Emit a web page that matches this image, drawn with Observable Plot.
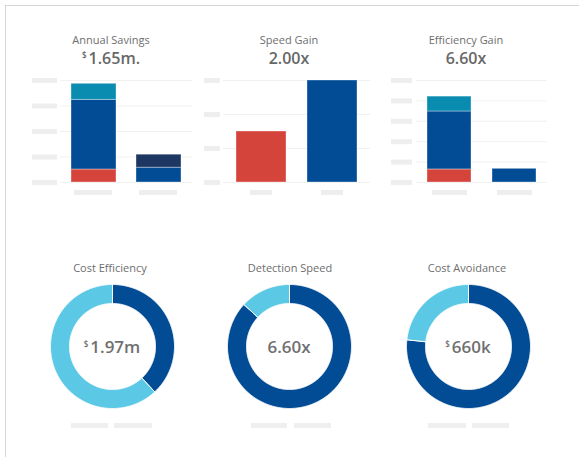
<!DOCTYPE html>
<html><head><meta charset="utf-8">
<script src="https://cdn.jsdelivr.net/npm/d3@7"></script>
<script src="https://cdn.jsdelivr.net/npm/@observablehq/plot@0.6"></script>
<style>
body{margin:0;background:#fff;font-family:"Open Sans",sans-serif;}
#root{position:relative;width:579px;height:457px;overflow:hidden;background:#fff;}
.frame{position:absolute;left:5px;top:5px;width:700px;height:600px;border-left:1px solid #d6d6d6;border-top:1px solid #d6d6d6;}
.title{position:absolute;width:200px;text-align:center;font-size:11px;color:#6e6e6e;line-height:11px;white-space:nowrap;}
.value{position:absolute;width:200px;text-align:center;font-size:16px;font-weight:600;color:#676767;line-height:16px;white-space:nowrap;}
.center{position:absolute;width:120px;text-align:center;font-size:17px;font-weight:600;color:#707070;line-height:17px;white-space:nowrap;}
.cur{font-size:8px;position:relative;top:-6px;margin-right:2px;}
.ph{position:absolute;height:5px;background:#efefef;}
</style></head>
<body><div id="root"><div class="frame"></div></div>
<script>
// ---------- data ----------
const segNames  = ["Labor", "Operations", "Licensing", "Overhead"];
const segColors = ["#d5443b", "#024c96", "#0a8cb0", "#1e3762"];

const annualTitle = "Annual Savings", annualValue = "1.65m.";
const annualCat = ["Current", "Current", "Current", "Projected", "Projected"];
const annualSeg = ["Labor", "Operations", "Licensing", "Operations", "Overhead"];
const annualVal = [0.51, 2.73, 0.63, 0.58, 0.51];
const annualTicks = [0, 1, 2, 3, 4];

const speedTitle = "Speed Gain", speedValue = "2.00x";
const speedCat = ["Current", "Projected"];
const speedSeg = ["Labor", "Operations"];
const speedVal = [1.5, 3.0];
const speedTicks = [0, 1, 2, 3];

const effTitle = "Efficiency Gain", effValue = "6.60x";
const effCat = ["Current", "Current", "Current", "Projected"];
const effSeg = ["Labor", "Operations", "Licensing", "Operations"];
const effVal = [0.64, 2.84, 0.73, 0.67];
const effTicks = [0, 1, 2, 3, 4, 5];

const donutColors = ["#024c96", "#5bc8e6"];
const costEffTitle = "Cost Efficiency", costEffLabel = "1.97m", costEffVals = [0.75, 1.22];
const detectTitle = "Detection Speed", detectLabel = "6.60x", detectVals = [6.6, 1.0];
const avoidTitle = "Cost Avoidance", avoidLabel = "660k", avoidVals = [660, 200];

// ---------- helpers ----------
const root = document.getElementById("root");
function place(el, left, top) { el.style.position = "absolute"; el.style.left = left + "px"; el.style.top = top + "px"; root.appendChild(el); return el; }
function textDiv(cls, html, cx, top, w) { const d = document.createElement("div"); d.className = cls; d.innerHTML = html; place(d, cx - w / 2, top); return d; }
function ph(x0, x1, cy) { const d = document.createElement("div"); d.className = "ph"; d.style.width = (x1 - x0) + "px"; place(d, x0, cy - 2.5); }

function barChart(o) {
  const data = o.vals.map((v, i) => ({cat: o.cats[i], seg: o.segs[i], v}));
  const cats = [...new Set(o.cats)];
  const width = o.width, mL = o.marginLeft, mR = 2;
  const frameW = width - mL - mR;
  return Plot.plot({
    width, height: 126, marginLeft: mL, marginRight: mR, marginTop: 8, marginBottom: 16,
    style: {background: "transparent", overflow: "visible"},
    x: {type: "band", domain: cats, paddingInner: o.padIn, paddingOuter: o.padOut, axis: null},
    y: {domain: [0, o.ticks[o.ticks.length - 1]], axis: null},
    color: {domain: segNames, range: segColors},
    marks: [
      Plot.ruleY(o.ticks, {stroke: "#f1f1f1", strokeWidth: 1}),
      Plot.ruleY(o.ticks, {stroke: "#eeeeee", strokeWidth: 5, insetLeft: -(mL - o.phX0), insetRight: frameW + (mL - o.phX1)}),
      Plot.barY(data, {x: "cat", y: "v", fill: "seg", stroke: "#fff", strokeOpacity: 0.35, strokeWidth: 1}),
      Plot.tickY(cats, {x: d => d, y: () => 0, dy: 10, stroke: "#eeeeee", strokeWidth: 5, insetLeft: o.insL, insetRight: o.insR})
    ]
  });
}

function donut(values) {
  const arcs = d3.pie().sort(null)(values);
  const rOut = 1, rIn = 0.694;
  const marks = arcs.map((a, i) => {
    const pts = [];
    const n = Math.max(2, Math.ceil((a.endAngle - a.startAngle) / (Math.PI / 360)));
    for (let k = 0; k <= n; k++) { const t = a.startAngle + (a.endAngle - a.startAngle) * k / n; pts.push([rOut * Math.sin(t), rOut * Math.cos(t)]); }
    for (let k = n; k >= 0; k--) { const t = a.startAngle + (a.endAngle - a.startAngle) * k / n; pts.push([rIn * Math.sin(t), rIn * Math.cos(t)]); }
    pts.push(pts[0]);
    return Plot.line(pts, {x: d => d[0], y: d => d[1], fill: donutColors[i], stroke: "#fff", strokeWidth: 1, strokeLinejoin: "miter"});
  });
  return Plot.plot({width: 128, height: 128, margin: 2, style: {background: "transparent"},
    x: {domain: [-1, 1], axis: null}, y: {domain: [-1, 1], axis: null}, marks});
}

// ---------- bar panels ----------
place(barChart({cats: annualCat, segs: annualSeg, vals: annualVal, ticks: annualTicks, width: 164, marginLeft: 30,
  padIn: 0.3077, padOut: 0.169, phX0: 2, phX1: 27, insL: 3, insR: 4}), 30, 72);
textDiv("title", annualTitle, 111, 34, 200);
textDiv("value", '<span class="cur">$</span>' + annualValue, 111, 50, 200);

place(barChart({cats: speedCat, segs: speedSeg, vals: speedVal, ticks: speedTicks, width: 172, marginLeft: 23,
  padIn: 0.296, padOut: 0.183, phX0: 4, phX1: 20, insL: 14, insR: 14}), 200, 72);
textDiv("title", speedTitle, 289, 34, 200);
textDiv("value", speedValue, 289, 50, 200);

place(barChart({cats: effCat, segs: effSeg, vals: effVal, ticks: effTicks, width: 161, marginLeft: 28,
  padIn: 0.32, padOut: 0.16, phX0: 3, phX1: 24, insL: 5, insR: 4}), 388, 72);
textDiv("title", effTitle, 466, 34, 200);
textDiv("value", effValue, 466, 50, 200);

// ---------- donut panels ----------
const donuts = [
  {title: costEffTitle, label: '<span class="cur">$</span>' + costEffLabel, vals: costEffVals, cx: 112, tx: 110, ph: [[71, 108], [114, 152]]},
  {title: detectTitle, label: detectLabel, vals: detectVals, cx: 289, tx: 290, ph: [[251, 287], [294, 331]]},
  {title: avoidTitle, label: '<span class="cur">$</span>' + avoidLabel, vals: avoidVals, cx: 468, tx: 467, ph: [[428, 466], [472, 509]]}
];
for (const d of donuts) {
  place(donut(d.vals), d.cx - 64, 346 - 64);
  textDiv("title", d.title, d.tx, 262, 200);
  textDiv("center", d.label, d.cx, 338, 120);
  for (const [a, b] of d.ph) ph(a, b, 425.5);
}
</script></body></html>
